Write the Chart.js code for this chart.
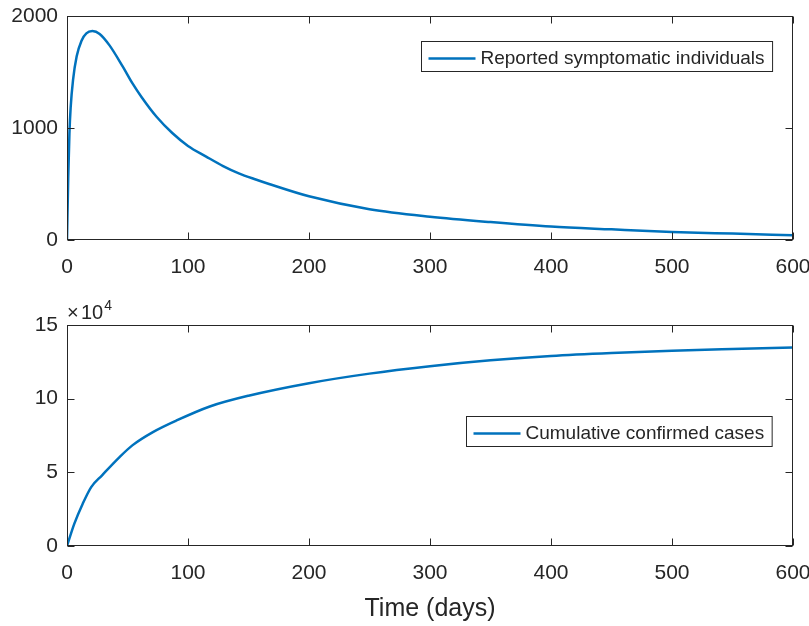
<!DOCTYPE html>
<html>
<head>
<meta charset="utf-8">
<script src="https://cdn.jsdelivr.net/npm/chart.js@4.4.1/dist/chart.umd.min.js"></script>
<style>
  html, body { margin: 0; padding: 0; background: #fff; }
  body { width: 809px; height: 626px; position: relative; overflow: hidden; }
  canvas { position: absolute; left: 0; }
  #topChart { top: 0; }
  #bottomChart { top: 300px; }
</style>
</head>
<body>
<canvas id="topChart" width="809" height="280"></canvas>
<canvas id="bottomChart" width="809" height="326"></canvas>
<script>
// Top panel: reported symptomatic individuals
const reportedDays = [0, 1, 2, 3, 5, 8, 12, 16, 21, 27, 35, 46, 54, 62, 74, 87, 100, 115, 129, 142, 156, 167, 200, 250, 300, 350, 400, 450, 500, 550, 600];
const reportedValues = [0, 550, 950, 1180, 1430, 1640, 1780, 1845, 1865, 1840, 1740, 1550, 1400, 1270, 1100, 955, 840, 745, 660, 595, 540, 500, 390, 275, 208, 160, 120, 95, 72, 57, 43];

// Bottom panel: cumulative confirmed cases
const cumulativeDays = [0, 6, 13, 20, 29, 43, 54, 71, 90, 118, 150, 200, 250, 300, 350, 400, 450, 500, 550, 600];
const cumulativeValues = [0, 15000, 28700, 40000, 48000, 60000, 68300, 77300, 85000, 94700, 102000, 110500, 117000, 122000, 126000, 129000, 131000, 132500, 133700, 134800];

const xTicks = [0, 100, 200, 300, 400, 500, 600];
const topYTicks = [0, 1000, 2000];
const bottomYTicks = [0, 50000, 100000, 150000];

const lineColor = "#0072BD";
const axisColor = "#262626";
const fontFamily = "'Liberation Sans', Arial, Helvetica, sans-serif";

Chart.defaults.font.family = fontFamily;
Chart.defaults.color = axisColor;

function toPoints(xs, ys) {
    return xs.map((x, i) => ({ x: x, y: ys[i] }));
}

// MATLAB-like box with inward ticks, legend inside the axes
const matlabBox = {
    id: "matlabBox",
    afterDraw(chart, args, opts) {
        const { ctx, chartArea: a, scales } = chart;
        const L = Math.round(a.left) + 0.5, R = Math.round(a.right) - 0.5;
        const T = Math.round(a.top) + 0.5, B = Math.round(a.bottom) - 0.5;
        ctx.save();
        ctx.strokeStyle = axisColor;
        ctx.lineWidth = 1;
        ctx.strokeRect(L, T, R - L, B - T);

        const tl = 7;
        ctx.beginPath();
        scales.x.ticks.forEach(t => {
            const px = Math.round(scales.x.getPixelForValue(t.value)) + 0.5;
            ctx.moveTo(px, B); ctx.lineTo(px, B - tl);
            ctx.moveTo(px, T); ctx.lineTo(px, T + tl);
        });
        scales.y.ticks.forEach(t => {
            const py = Math.round(scales.y.getPixelForValue(t.value)) + 0.5;
            ctx.moveTo(L, py); ctx.lineTo(L + tl, py);
            ctx.moveTo(R, py); ctx.lineTo(R - tl, py);
        });
        ctx.stroke();

        // legend
        ctx.font = "19px " + fontFamily;
        const tw = ctx.measureText(opts.label).width;
        const w = 7 + 47 + 5 + tw + 8, h = 30;
        const bx = Math.round(a.right - 21 - w) + 0.5;
        const by = Math.round(a.top + opts.legendTop) + 0.5;
        ctx.fillStyle = "#fff";
        ctx.fillRect(bx, by, w, h);
        ctx.strokeStyle = axisColor;
        ctx.strokeRect(bx, by, w, h);
        ctx.strokeStyle = lineColor;
        ctx.lineWidth = 2.5;
        ctx.beginPath();
        ctx.moveTo(bx + 7, by + h / 2 + 2);
        ctx.lineTo(bx + 54, by + h / 2 + 2);
        ctx.stroke();
        ctx.fillStyle = axisColor;
        ctx.textBaseline = "middle";
        ctx.textAlign = "left";
        ctx.fillText(opts.label, bx + 59, by + h / 2 + 2);

        // exponent label
        if (opts.exponent) {
            ctx.textBaseline = "alphabetic";
            ctx.font = "20px " + fontFamily;
            ctx.fillText("\u00d7", a.left, a.top - 6);
            ctx.fillText("10", a.left + 14, a.top - 6);
            const ew = ctx.measureText("10").width;
            ctx.font = "14px " + fontFamily;
            ctx.fillText("4", a.left + 15 + ew, a.top - 15);
        }
        ctx.restore();
    }
};

function makeOptions(yTicks, yMax, xHeight, pad, showTitle, tickCb, legendOpts) {
    return {
        responsive: false,
        animation: false,
        layout: { padding: pad },
        plugins: {
            legend: { display: false },
            tooltip: { enabled: false },
            matlabBox: legendOpts
        },
        elements: { point: { radius: 0 } },
        scales: {
            x: {
                type: "linear",
                min: 0, max: 600,
                grid: { display: false, drawTicks: false },
                border: { display: false },
                afterBuildTicks: s => { s.ticks = xTicks.map(v => ({ value: v })); },
                ticks: { padding: 15, font: { size: 21 }, color: axisColor, maxRotation: 0 },
                title: {
                    display: showTitle,
                    text: "Time (days)",
                    font: { size: 25 },
                    color: axisColor,
                    padding: { top: 0, bottom: 2 }
                },
                afterFit: s => {
                    s.height = xHeight;
                    s.paddingLeft = 0; s.paddingRight = 0;
                }
            },
            y: {
                min: 0, max: yMax,
                grid: { display: false, drawTicks: false },
                border: { display: false },
                afterBuildTicks: s => { s.ticks = yTicks.map(v => ({ value: v })); },
                ticks: { padding: 9, font: { size: 21 }, color: axisColor, callback: tickCb },
                afterFit: s => {
                    s.width = 67;
                    s.paddingTop = 0; s.paddingBottom = 0;
                }
            }
        }
    };
}

new Chart(document.getElementById("topChart"), {
    type: "line",
    data: {
        datasets: [{
            label: "Reported symptomatic individuals",
            data: toPoints(reportedDays, reportedValues),
            borderColor: lineColor,
            borderWidth: 2.5,
            cubicInterpolationMode: "monotone",
            fill: false
        }]
    },
    options: makeOptions(topYTicks, 2000, 40, { top: 16, right: 16, left: 0, bottom: 0 }, false,
        v => String(v), { label: "Reported symptomatic individuals", legendTop: 25, exponent: false }),
    plugins: [matlabBox]
});

new Chart(document.getElementById("bottomChart"), {
    type: "line",
    data: {
        datasets: [{
            label: "Cumulative confirmed cases",
            data: toPoints(cumulativeDays, cumulativeValues),
            borderColor: lineColor,
            borderWidth: 2.5,
            cubicInterpolationMode: "monotone",
            fill: false
        }]
    },
    options: makeOptions(bottomYTicks, 150000, 80, { top: 25, right: 16, left: 0, bottom: 0 }, true,
        v => String(v / 10000), { label: "Cumulative confirmed cases", legendTop: 91, exponent: true }),
    plugins: [matlabBox]
});
</script>
</body>
</html>
